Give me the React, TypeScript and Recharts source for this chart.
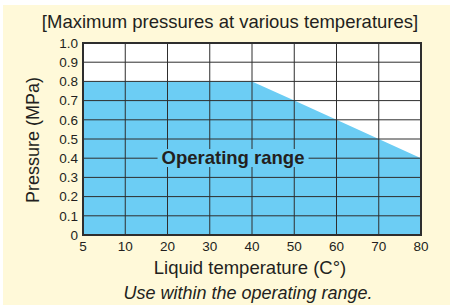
import React from "react";
import {
  AreaChart,
  Area,
  XAxis,
  YAxis,
  CartesianGrid,
} from "recharts";

// temperature categories (C°), equally spaced on the chart
const temps = ["5", "10", "20", "30", "40", "50", "60", "70", "80"];
// maximum allowed pressure at each temperature (MPa)
const maxPressure = [0.8, 0.8, 0.8, 0.8, 0.8, 0.7, 0.6, 0.5, 0.4];
const pressureTicks = [0, 0.1, 0.2, 0.3, 0.4, 0.5, 0.6, 0.7, 0.8, 0.9, 1.0];

const data = temps.map((t, i) => ({ t, p: maxPressure[i] }));

const FONT = '"Liberation Sans", Arial, Helvetica, sans-serif';
const TEXT = "#231f20";
const BLUE = "#6ccdf4";
const GRID = "#2e2e2e";

export default function App() {
  return (
    <div
      style={{
        position: "absolute",
        left: 0,
        top: 0,
        width: 450,
        height: 305,
        background: "#ffffff",
        fontFamily: FONT,
        color: TEXT,
      }}
    >
      <div
        style={{
          position: "absolute",
          left: 3,
          top: 5,
          right: 0,
          bottom: 0,
          background: "#fff9d9",
        }}
      />
      {/* white plot background */}
      <div
        style={{
          position: "absolute",
          left: 83,
          top: 43,
          width: 338,
          height: 192,
          background: "#ffffff",
        }}
      />
      <div style={{ position: "absolute", left: 0, top: 0 }}>
        <AreaChart
          width={450}
          height={305}
          data={data}
          margin={{ top: 43, right: 29, left: 0, bottom: 50 }}
        >
          <XAxis
            dataKey="t"
            type="category"
            tickLine={false}
            tickSize={4}
            tickMargin={2}
            height={20}
            axisLine={{ stroke: GRID, strokeWidth: 2 }}
            tick={{ fill: TEXT, fontSize: 13.5, fontFamily: FONT }}
            interval={0}
          />
          <YAxis
            type="number"
            domain={[0, 1]}
            ticks={pressureTicks}
            width={83}
            tickLine={false}
            tickSize={3}
            tickMargin={2}
            axisLine={{ stroke: GRID, strokeWidth: 2 }}
            tickFormatter={(v: number) => (v === 0 ? "0" : v.toFixed(1))}
            tick={{ fill: TEXT, fontSize: 13.5, fontFamily: FONT }}
            interval={0}
          />
          <Area
            dataKey="p"
            type="linear"
            fill={BLUE}
            fillOpacity={1}
            stroke="none"
            isAnimationActive={false}
            dot={false}
            activeDot={false}
          />
          <CartesianGrid
            stroke={GRID}
            strokeWidth={1}
            fill="none"
            zIndex={450}
          />
        </AreaChart>
      </div>
      {/* border of the plot box */}
      <div
        style={{
          position: "absolute",
          left: 82,
          top: 42,
          width: 340,
          height: 194,
          border: `2px solid ${GRID}`,
          boxSizing: "border-box",
          pointerEvents: "none",
        }}
      />
      <div
        style={{
          position: "absolute",
          left: 230,
          top: 22,
          transform: "translate(-50%, -50%)",
          whiteSpace: "nowrap",
          fontSize: 18.5,
        }}
      >
        [Maximum pressures at various temperatures]
      </div>
      <div
        style={{
          position: "absolute",
          left: 33,
          top: 140,
          transform: "translate(-50%, -50%) rotate(-90deg)",
          whiteSpace: "nowrap",
          fontSize: 18,
        }}
      >
        Pressure (MPa)
      </div>
      <div
        style={{
          position: "absolute",
          left: 233,
          top: 158,
          transform: "translate(-50%, -50%)",
          whiteSpace: "nowrap",
          fontSize: 18.5,
          fontWeight: "bold",
          background: BLUE,
          padding: "0 4px",
          lineHeight: "18px",
        }}
      >
        Operating range
      </div>
      <div
        style={{
          position: "absolute",
          left: 250,
          top: 268,
          transform: "translate(-50%, -50%)",
          whiteSpace: "nowrap",
          fontSize: 18.5,
        }}
      >
        Liquid temperature (C°)
      </div>
      <div
        style={{
          position: "absolute",
          left: 248,
          top: 293,
          transform: "translate(-50%, -50%)",
          whiteSpace: "nowrap",
          fontSize: 18,
          fontStyle: "italic",
        }}
      >
        Use within the operating range.
      </div>
    </div>
  );
}
